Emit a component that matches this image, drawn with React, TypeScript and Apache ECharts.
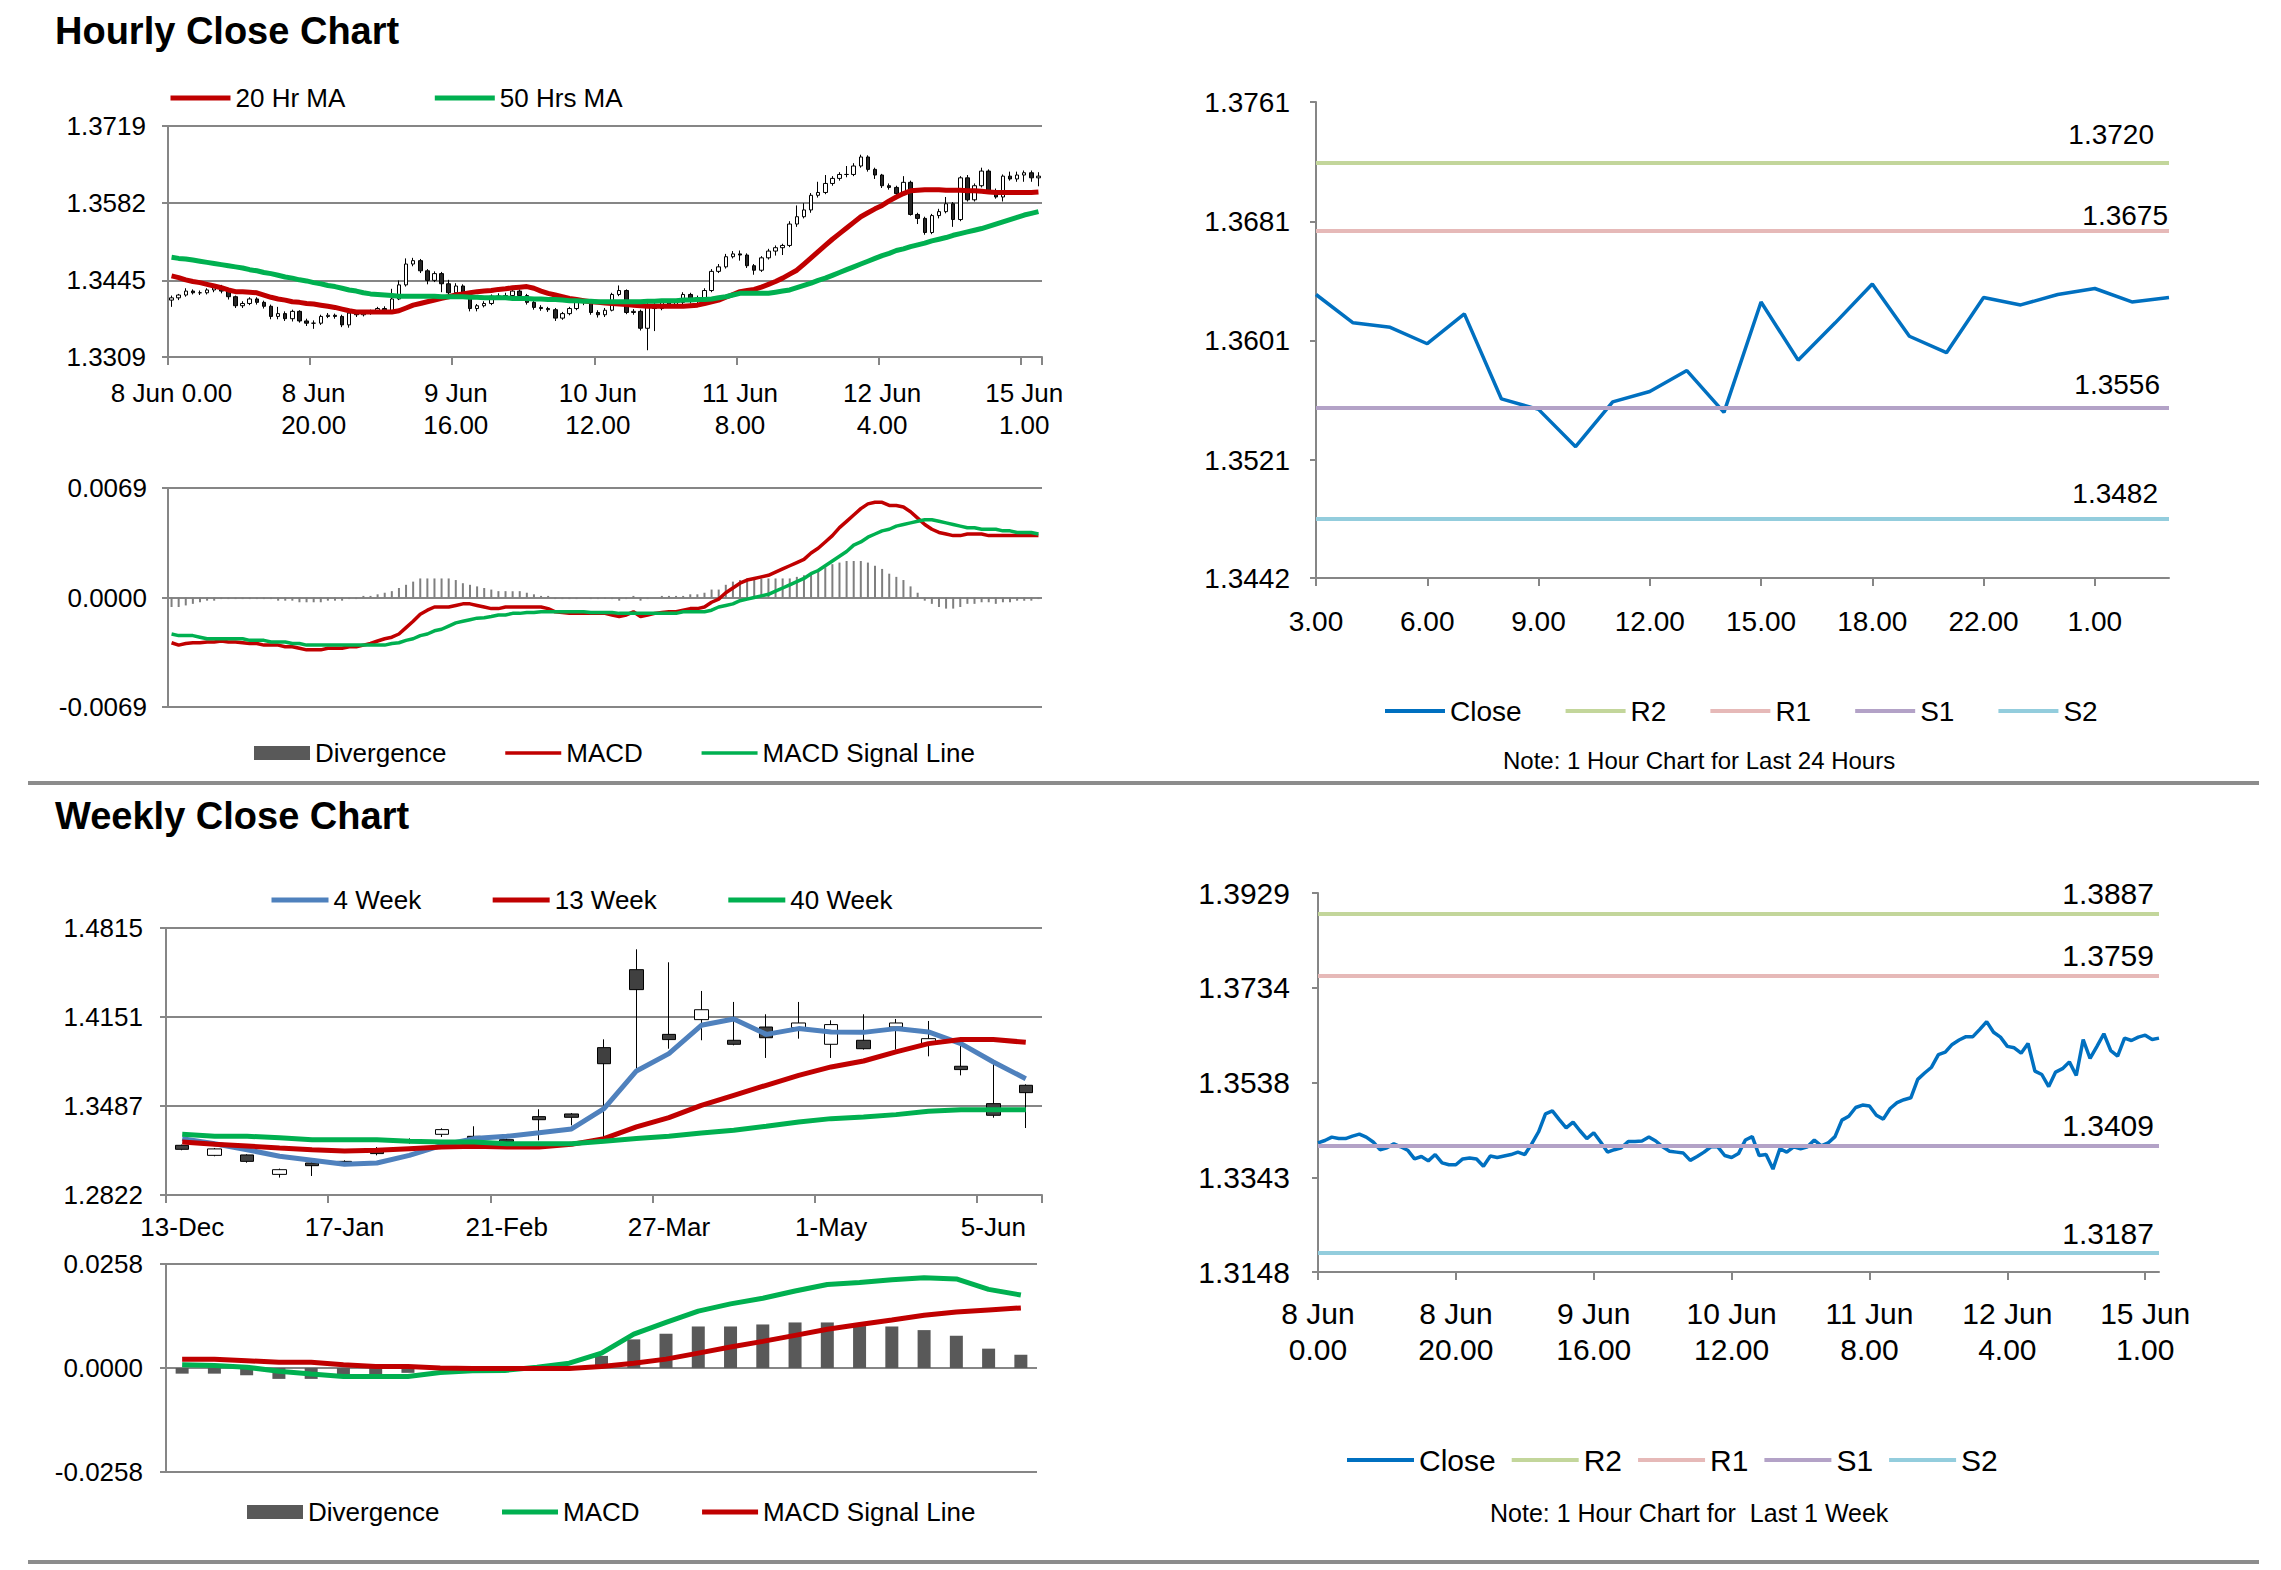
import React, { useEffect, useRef } from 'react';
import * as echarts from 'echarts';

const FONT = '"Liberation Sans", Arial, Helvetica, sans-serif';
const GRAY = '#868686';

// ---------- Hourly (last 1 week, 1-hour bars) ----------
const hourLabels = Array.from({ length: 123 }, (_, i) =>
  i < 120 ? `${8 + Math.floor(i / 24)} Jun ${i % 24}.00` : `15 Jun ${i - 119}.00`
);

const hourlyOpen = [
  1.3410, 1.3414, 1.3419, 1.3426, 1.3423, 1.3423, 1.3428, 1.3432, 1.3426, 1.3416,
  1.3400, 1.3404, 1.3412, 1.3406, 1.3399, 1.3381, 1.3386, 1.3377, 1.3390, 1.3373,
  1.3369, 1.3369, 1.3381, 1.3383, 1.3381, 1.3366, 1.3387, 1.3384, 1.3387, 1.3390,
  1.3395, 1.3390, 1.3412, 1.3437, 1.3474, 1.3480, 1.3462, 1.3445, 1.3457, 1.3439,
  1.3423, 1.3435, 1.3416, 1.3395, 1.3400, 1.3404, 1.3417, 1.3417, 1.3418, 1.3426,
  1.3418, 1.3406, 1.3397, 1.3395, 1.3393, 1.3378, 1.3386, 1.3395, 1.3406, 1.3406,
  1.3388, 1.3384, 1.3392, 1.3420, 1.3427, 1.3388, 1.3390, 1.3360, 1.3402, 1.3395,
  1.3406, 1.3402, 1.3406, 1.3420, 1.3408, 1.3414, 1.3427, 1.3461, 1.3469, 1.3487,
  1.3492, 1.3490, 1.3471, 1.3463, 1.3485, 1.3497, 1.3503, 1.3507, 1.3545, 1.3558,
  1.3570, 1.3596, 1.3601, 1.3617, 1.3626, 1.3633, 1.3633, 1.3648, 1.3664, 1.3642,
  1.3632, 1.3613, 1.3610, 1.3599, 1.3619, 1.3562, 1.3555, 1.3530, 1.3560, 1.3567,
  1.3581, 1.3553, 1.3627, 1.3588, 1.3613, 1.3639, 1.3604, 1.3593, 1.3630, 1.3625,
  1.3632, 1.3636, 1.3627,
];
const hourlyClose = [
  1.3414, 1.3419, 1.3426, 1.3423, 1.3423, 1.3428, 1.3432, 1.3426, 1.3416, 1.3400,
  1.3404, 1.3412, 1.3406, 1.3399, 1.3381, 1.3386, 1.3377, 1.3390, 1.3373, 1.3369,
  1.3369, 1.3381, 1.3383, 1.3381, 1.3366, 1.3387, 1.3384, 1.3387, 1.3390, 1.3395,
  1.3390, 1.3412, 1.3437, 1.3474, 1.3480, 1.3462, 1.3445, 1.3457, 1.3439, 1.3423,
  1.3435, 1.3416, 1.3395, 1.3400, 1.3404, 1.3417, 1.3417, 1.3418, 1.3426, 1.3418,
  1.3406, 1.3397, 1.3395, 1.3393, 1.3378, 1.3386, 1.3395, 1.3406, 1.3406, 1.3388,
  1.3384, 1.3392, 1.3420, 1.3427, 1.3388, 1.3390, 1.3360, 1.3402, 1.3395, 1.3406,
  1.3402, 1.3406, 1.3420, 1.3408, 1.3414, 1.3427, 1.3461, 1.3469, 1.3487, 1.3492,
  1.3490, 1.3471, 1.3463, 1.3485, 1.3497, 1.3503, 1.3507, 1.3545, 1.3558, 1.3570,
  1.3596, 1.3601, 1.3617, 1.3626, 1.3633, 1.3633, 1.3648, 1.3664, 1.3642, 1.3632,
  1.3613, 1.3610, 1.3599, 1.3619, 1.3562, 1.3555, 1.3530, 1.3560, 1.3567, 1.3581,
  1.3553, 1.3627, 1.3588, 1.3613, 1.3639, 1.3604, 1.3593, 1.3630, 1.3625, 1.3632,
  1.3636, 1.3627, 1.3630,
];
const hourlyHigh = [
  1.3418, 1.3421, 1.3431, 1.3429, 1.3427, 1.3431, 1.3435, 1.3437, 1.3429, 1.3418,
  1.3408, 1.3415, 1.3415, 1.3409, 1.3402, 1.3398, 1.3390, 1.3393, 1.3392, 1.3377,
  1.3374, 1.3384, 1.3387, 1.3386, 1.3384, 1.3389, 1.3390, 1.3391, 1.3393, 1.3398,
  1.3399, 1.3430, 1.3445, 1.3484, 1.3485, 1.3483, 1.3465, 1.3461, 1.3460, 1.3446,
  1.3440, 1.3438, 1.3420, 1.3403, 1.3408, 1.3420, 1.3422, 1.3423, 1.3430, 1.3429,
  1.3421, 1.3409, 1.3401, 1.3398, 1.3396, 1.3389, 1.3398, 1.3409, 1.3410, 1.3408,
  1.3392, 1.3396, 1.3423, 1.3436, 1.3429, 1.3394, 1.3393, 1.3405, 1.3406, 1.3409,
  1.3410, 1.3411, 1.3424, 1.3423, 1.3418, 1.3431, 1.3465, 1.3474, 1.3492, 1.3497,
  1.3498, 1.3493, 1.3474, 1.3488, 1.3501, 1.3507, 1.3510, 1.3550, 1.3578, 1.3582,
  1.3600, 1.3620, 1.3632, 1.3630, 1.3637, 1.3648, 1.3653, 1.3668, 1.3667, 1.3645,
  1.3634, 1.3617, 1.3613, 1.3630, 1.3622, 1.3565, 1.3558, 1.3563, 1.3572, 1.3593,
  1.3584, 1.3630, 1.3632, 1.3617, 1.3645, 1.3642, 1.3608, 1.3633, 1.3638, 1.3638,
  1.3640, 1.3640, 1.3637,
];
const hourlyLow = [
  1.3398, 1.3410, 1.3416, 1.3420, 1.3419, 1.3420, 1.3424, 1.3422, 1.3411, 1.3396,
  1.3396, 1.3401, 1.3402, 1.3395, 1.3376, 1.3376, 1.3373, 1.3372, 1.3370, 1.3364,
  1.3359, 1.3366, 1.3378, 1.3377, 1.3362, 1.3361, 1.3380, 1.3381, 1.3384, 1.3386,
  1.3386, 1.3387, 1.3410, 1.3434, 1.3470, 1.3458, 1.3438, 1.3442, 1.3424, 1.3420,
  1.3420, 1.3412, 1.3390, 1.3390, 1.3397, 1.3401, 1.3413, 1.3413, 1.3415, 1.3414,
  1.3402, 1.3393, 1.3391, 1.3389, 1.3373, 1.3375, 1.3383, 1.3392, 1.3401, 1.3384,
  1.3379, 1.3380, 1.3390, 1.3417, 1.3385, 1.3384, 1.3356, 1.3321, 1.3355, 1.3392,
  1.3398, 1.3399, 1.3403, 1.3404, 1.3405, 1.3411, 1.3424, 1.3458, 1.3466, 1.3484,
  1.3480, 1.3467, 1.3455, 1.3460, 1.3482, 1.3489, 1.3490, 1.3504, 1.3540, 1.3555,
  1.3565, 1.3592, 1.3598, 1.3613, 1.3622, 1.3628, 1.3630, 1.3645, 1.3638, 1.3625,
  1.3609, 1.3606, 1.3595, 1.3596, 1.3560, 1.3545, 1.3526, 1.3527, 1.3555, 1.3564,
  1.3540, 1.3550, 1.3585, 1.3585, 1.3610, 1.3602, 1.3590, 1.3585, 1.3622, 1.3620,
  1.3620, 1.3620, 1.3612,
];
const ma20 = [
  1.3453, 1.3450, 1.3446, 1.3443, 1.3441, 1.3438, 1.3435, 1.3432, 1.3428, 1.3425,
  1.3425, 1.3424, 1.3423, 1.3419, 1.3415, 1.3412, 1.3410, 1.3407, 1.3406, 1.3404,
  1.3403, 1.3401, 1.3399, 1.3397, 1.3394, 1.3391, 1.3389, 1.3389, 1.3389, 1.3389,
  1.3389, 1.3389, 1.3391, 1.3396, 1.3401, 1.3404, 1.3407, 1.3410, 1.3413, 1.3416,
  1.3419, 1.3421, 1.3423, 1.3425, 1.3426, 1.3427, 1.3429, 1.3430, 1.3432, 1.3433,
  1.3434, 1.3431, 1.3426, 1.3422, 1.3419, 1.3416, 1.3413, 1.3411, 1.3409, 1.3407,
  1.3406, 1.3405, 1.3404, 1.3403, 1.3402, 1.3401, 1.3400, 1.3399, 1.3399, 1.3399,
  1.3399, 1.3399, 1.3399, 1.3400, 1.3401, 1.3404, 1.3407, 1.3410, 1.3415, 1.3420,
  1.3425, 1.3427, 1.3429, 1.3433, 1.3438, 1.3443, 1.3449, 1.3456, 1.3463, 1.3474,
  1.3485, 1.3496, 1.3507, 1.3518, 1.3528, 1.3538, 1.3548, 1.3558, 1.3565, 1.3572,
  1.3578, 1.3586, 1.3593, 1.3599, 1.3604, 1.3605, 1.3606, 1.3606, 1.3606, 1.3605,
  1.3605, 1.3605, 1.3604, 1.3604, 1.3603, 1.3602, 1.3601, 1.3601, 1.3601, 1.3601,
  1.3601, 1.3601, 1.3602,
];
const ma50 = [
  1.3486, 1.3484, 1.3483, 1.3481, 1.3479, 1.3477, 1.3475, 1.3473, 1.3471, 1.3469,
  1.3467, 1.3464, 1.3462, 1.3459, 1.3457, 1.3454, 1.3451, 1.3449, 1.3446, 1.3444,
  1.3441, 1.3439, 1.3436, 1.3434, 1.3431, 1.3428, 1.3426, 1.3423, 1.3421, 1.3420,
  1.3419, 1.3418, 1.3417, 1.3417, 1.3417, 1.3417, 1.3417, 1.3417, 1.3416, 1.3416,
  1.3416, 1.3416, 1.3415, 1.3415, 1.3414, 1.3414, 1.3414, 1.3414, 1.3413, 1.3413,
  1.3413, 1.3412, 1.3412, 1.3411, 1.3411, 1.3410, 1.3409, 1.3409, 1.3408, 1.3408,
  1.3407, 1.3407, 1.3407, 1.3407, 1.3407, 1.3407, 1.3407, 1.3408, 1.3408, 1.3409,
  1.3409, 1.3409, 1.3410, 1.3410, 1.3411, 1.3411, 1.3412, 1.3414, 1.3416, 1.3419,
  1.3422, 1.3422, 1.3422, 1.3422, 1.3422, 1.3424, 1.3426, 1.3428, 1.3432, 1.3436,
  1.3440, 1.3445, 1.3449, 1.3454, 1.3459, 1.3464, 1.3469, 1.3474, 1.3479, 1.3484,
  1.3489, 1.3493, 1.3498, 1.3501, 1.3505, 1.3508, 1.3511, 1.3515, 1.3518, 1.3521,
  1.3525, 1.3528, 1.3531, 1.3534, 1.3537, 1.3541, 1.3545, 1.3549, 1.3553, 1.3557,
  1.3561, 1.3564, 1.3567,
];
const hMacd = [
  -0.00285, -0.0030, -0.0029, -0.00285, -0.00285, -0.0028, -0.0028, -0.00274, -0.0028, -0.0028,
  -0.00285, -0.0029, -0.0029, -0.0030, -0.0030, -0.0030, -0.0031, -0.0031, -0.0032, -0.0033,
  -0.0033, -0.0033, -0.0032, -0.0032, -0.0032, -0.0031, -0.0031, -0.0030, -0.0029, -0.00274,
  -0.0026, -0.0025, -0.0023, -0.0019, -0.0015, -0.00105, -0.0008, -0.0006, -0.0006, -0.0006,
  -0.0005, -0.0004, -0.0004, -0.0005, -0.0006, -0.0007, -0.0007, -0.0006, -0.0006, -0.0006,
  -0.0006, -0.0006, -0.0006, -0.0007, -0.0009, -0.00095, -0.0010, -0.0010, -0.0010, -0.0010,
  -0.0010, -0.0010, -0.0011, -0.0012, -0.0011, -0.0009, -0.0012, -0.0011, -0.0010, -0.00095,
  -0.0009, -0.0009, -0.0008, -0.0007, -0.0007, -0.0006, -0.0003, -0.0001, 0.0003, 0.0006,
  0.0009, 0.0011, 0.0012, 0.0013, 0.0014, 0.0016, 0.0018, 0.0020, 0.0022, 0.0024,
  0.0028, 0.0031, 0.0035, 0.0039, 0.0044, 0.0048, 0.0052, 0.0056, 0.0059, 0.0060,
  0.0060, 0.0058, 0.0058, 0.0057, 0.0054, 0.0050, 0.0046, 0.0043, 0.0041, 0.0040,
  0.0039, 0.0039, 0.0040, 0.0040, 0.0040, 0.0039, 0.0039, 0.0039, 0.0039, 0.0039,
  0.0039, 0.0039, 0.0039,
];
const hSignal = [
  -0.0023, -0.0024, -0.0024, -0.0024, -0.0025, -0.0026, -0.0026, -0.0026, -0.0026, -0.0026,
  -0.0026, -0.0027, -0.0027, -0.0027, -0.0028, -0.0028, -0.0028, -0.0029, -0.0029, -0.0030,
  -0.0030, -0.0030, -0.0030, -0.0030, -0.0030, -0.0030, -0.0030, -0.0030, -0.0030, -0.0030,
  -0.0030, -0.0029, -0.00285, -0.0027, -0.0026, -0.0024, -0.0023, -0.0021, -0.0020, -0.0018,
  -0.0016, -0.0015, -0.0014, -0.0013, -0.00127, -0.0012, -0.0011, -0.0011, -0.0010, -0.0010,
  -0.00095, -0.00095, -0.0009, -0.0009, -0.0009, -0.0009, -0.0009, -0.0009, -0.0009, -0.00095,
  -0.00095, -0.00095, -0.00095, -0.0010, -0.0010, -0.0010, -0.0010, -0.0010, -0.0010, -0.0010,
  -0.0010, -0.0010, -0.0009, -0.0009, -0.0009, -0.0009, -0.0008, -0.0006, -0.0005, -0.0004,
  -0.0002, -0.0001, 0.0000, 0.0001, 0.0002, 0.0004, 0.0006, 0.0008, 0.0010, 0.0012,
  0.0015, 0.0017, 0.0020, 0.0023, 0.0026, 0.0029, 0.0033, 0.0035, 0.0038, 0.0040,
  0.0042, 0.0043, 0.0045, 0.0046, 0.0047, 0.0048, 0.0049, 0.0049, 0.0048, 0.0047,
  0.0046, 0.0045, 0.0044, 0.0044, 0.0043, 0.0043, 0.0043, 0.0042, 0.0042, 0.0041,
  0.0041, 0.0041, 0.0040,
];
const hDiv = [
  -0.0006, -0.0006, -0.0005, -0.0004, -0.0003, -0.0002, -0.0002, -0.0001, -0.0001, -0.0001,
  -0.0001, -0.0001, -0.0001, -0.0001, -0.0001, -0.0002, -0.0002, -0.0002, -0.0003, -0.0003,
  -0.0003, -0.0003, -0.0002, -0.0002, -0.0002, -0.0001, -0.0001, 0.0001, 0.0001, 0.0002,
  0.0003, 0.0004, 0.0006, 0.0008, 0.0010, 0.0012, 0.0012, 0.0012, 0.0012, 0.0012,
  0.0011, 0.0009, 0.0008, 0.0007, 0.0006, 0.0005, 0.0004, 0.0004, 0.0004, 0.0004,
  0.0003, 0.0002, 0.0001, 0.0001, -0.0001, -0.0001, -0.0001, -0.0001, 0.0000, -0.0001,
  -0.0001, -0.0001, -0.0001, -0.0002, -0.0001, 0.0001, -0.0002, -0.0001, 0.0000, 0.0001,
  0.0001, 0.0001, 0.0001, 0.0002, 0.0002, 0.0003, 0.0005, 0.0005, 0.0008, 0.0010,
  0.0011, 0.0012, 0.0012, 0.0012, 0.0012, 0.0012, 0.0012, 0.0012, 0.0013, 0.0014,
  0.0015, 0.0017, 0.0019, 0.0021, 0.0022, 0.0023, 0.0023, 0.0023, 0.0022, 0.0020,
  0.0018, 0.0015, 0.0013, 0.0011, 0.0007, 0.0003, -0.0002, -0.0004, -0.0006, -0.0007,
  -0.0007, -0.0006, -0.0004, -0.0004, -0.0003, -0.0003, -0.0004, -0.0003, -0.0003, -0.0002,
  -0.0002, -0.0002, -0.0001,
];
const hourlyPriceTicks = [1.3309, 1.3445, 1.3582, 1.3719];
const hourlyMacdTicks = [-0.0069, 0, 0.0069];

// ---------- Last 24 hours ----------
const last24Labels = [
  '3.00', '4.00', '5.00', '6.00', '7.00', '8.00', '9.00', '10.00', '11.00', '12.00', '13.00', '14.00',
  '15.00', '16.00', '17.00', '18.00', '20.00', '21.00', '22.00', '23.00', '0.00', '1.00', '2.00', '3.00',
];
const last24Close = [
  1.3632, 1.3613, 1.3610, 1.3599, 1.3619, 1.3562, 1.3555, 1.3530, 1.3560, 1.3567, 1.3581, 1.3553,
  1.3627, 1.3588, 1.3613, 1.3639, 1.3604, 1.3593, 1.3630, 1.3625, 1.3632, 1.3636, 1.3627, 1.3630,
];
const last24Ticks = [1.3442, 1.3521, 1.3601, 1.3681, 1.3761];
const levelNames = ['R2', 'R1', 'S1', 'S2'];
const levelColors = ['#c3d69b', '#e6b9b8', '#b3a2c7', '#93cddd'];
const dayLevels = [1.3720, 1.3675, 1.3556, 1.3482];
const weekLevels = [1.3887, 1.3759, 1.3409, 1.3187];
const weekCloseTicks = [1.3148, 1.3343, 1.3538, 1.3734, 1.3929];

// ---------- Weekly ----------
const weekLabels = [
  '13-Dec', '20-Dec', '27-Dec', '3-Jan', '10-Jan', '17-Jan', '24-Jan', '31-Jan', '7-Feb', '14-Feb',
  '21-Feb', '28-Feb', '7-Mar', '14-Mar', '20-Mar', '27-Mar', '3-Apr', '10-Apr', '17-Apr', '24-Apr',
  '1-May', '8-May', '15-May', '22-May', '29-May', '5-Jun', '12-Jun',
];
const wOpen = [1.3193, 1.3118, 1.3121, 1.2976, 1.3061, 1.3073, 1.3148, 1.3235, 1.3275, 1.3260, 1.3235, 1.3407, 1.3427, 1.3922, 1.4504, 1.4021, 1.4131, 1.3977, 1.4076, 1.4071, 1.3947, 1.3977, 1.4076, 1.3952, 1.3783, 1.3504, 1.3641];
const wClose = [1.3163, 1.3166, 1.3073, 1.3011, 1.3041, 1.3061, 1.3131, 1.3218, 1.3310, 1.3240, 1.3220, 1.3384, 1.3402, 1.3802, 1.4355, 1.3982, 1.4205, 1.3947, 1.3996, 1.4106, 1.4094, 1.3914, 1.4106, 1.3989, 1.3758, 1.3417, 1.3586];
const wHigh = [1.3198, 1.3173, 1.3126, 1.3019, 1.3093, 1.3081, 1.3180, 1.3245, 1.3320, 1.3335, 1.3243, 1.3462, 1.3434, 1.3984, 1.4656, 1.4559, 1.4345, 1.4263, 1.4171, 1.4263, 1.4126, 1.4171, 1.4136, 1.4121, 1.4001, 1.3815, 1.3648];
const wLow = [1.3156, 1.3111, 1.3063, 1.2952, 1.2964, 1.3051, 1.3118, 1.3205, 1.3255, 1.3230, 1.3215, 1.3230, 1.3342, 1.3218, 1.3765, 1.3914, 1.3977, 1.3939, 1.3845, 1.3989, 1.3845, 1.3907, 1.3907, 1.3857, 1.3715, 1.3399, 1.3322];
const w4 = [1.3243, 1.3205, 1.3160, 1.3111, 1.3081, 1.3051, 1.3061, 1.3118, 1.3193, 1.3243, 1.3260, 1.3287, 1.3315, 1.3467, 1.3748, 1.3877, 1.4089, 1.4136, 1.4021, 1.4064, 1.4039, 1.4036, 1.4064, 1.4039, 1.3952, 1.3815, 1.3690];
const w13 = [1.3218, 1.3200, 1.3188, 1.3173, 1.3160, 1.3150, 1.3156, 1.3168, 1.3180, 1.3185, 1.3180, 1.3180, 1.3200, 1.3243, 1.3330, 1.3399, 1.3491, 1.3566, 1.3641, 1.3715, 1.3778, 1.3822, 1.3890, 1.3952, 1.3982, 1.3982, 1.3962];
const w40 = [1.3275, 1.3260, 1.3260, 1.3250, 1.3235, 1.3235, 1.3235, 1.3223, 1.3218, 1.3218, 1.3205, 1.3205, 1.3205, 1.3223, 1.3243, 1.3260, 1.3285, 1.3305, 1.3335, 1.3367, 1.3392, 1.3404, 1.3422, 1.3447, 1.3459, 1.3459, 1.3459];
const wMacd = [0.0008, 0.0006, 0.0002, -0.0008, -0.0015, -0.0021, -0.0021, -0.0021, -0.0011, -0.0007, -0.0006, 0.0002, 0.0012, 0.0037, 0.0084, 0.0113, 0.0141, 0.0159, 0.0173, 0.0191, 0.0207, 0.0212, 0.0219, 0.0224, 0.0221, 0.0195, 0.0181];
const wSignal = [0.0022, 0.0022, 0.0018, 0.0014, 0.0014, 0.0008, 0.0004, 0.0004, 0.0000, -0.0001, -0.0001, -0.0001, -0.0001, 0.0004, 0.0012, 0.0022, 0.0037, 0.0052, 0.0066, 0.0081, 0.0096, 0.0108, 0.0119, 0.0131, 0.0139, 0.0144, 0.0149];
const wDiv = [-0.0014, -0.0014, -0.0018, -0.0027, -0.0027, -0.0015, -0.0015, -0.0012, -0.0005, -0.0003, -0.0002, 0.0002, 0.0005, 0.0030, 0.0071, 0.0085, 0.0103, 0.0103, 0.0108, 0.0113, 0.0113, 0.0104, 0.0103, 0.0094, 0.0080, 0.0048, 0.0033];
const weeklyPriceTicks = [1.2822, 1.3487, 1.4151, 1.4815];
const weeklyMacdTicks = [-0.0258, 0, 0.0258];

// ---------- helpers ----------
const fmt4 = (v: number) => v.toFixed(4);

function valueAxis(gridIndex: number, ticks: number[], fontSize: number, margin: number, split: boolean) {
  return {
    type: 'value',
    gridIndex,
    min: ticks[0],
    max: ticks[ticks.length - 1],
    axisLine: { show: true, lineStyle: { color: GRAY, width: 2 } },
    axisTick: { show: true, length: 6, customValues: ticks, lineStyle: { color: GRAY, width: 2 } },
    axisLabel: { customValues: ticks, formatter: fmt4, color: '#000', fontFamily: FONT, fontSize, margin },
    splitLine: { show: split, lineStyle: { color: GRAY, width: 2 } },
  };
}

function catAxis(gridIndex: number, data: string[], boundaryGap: boolean, interval: number, label: any, show = true) {
  return {
    type: 'category',
    gridIndex,
    data,
    show,
    boundaryGap,
    axisLine: { show: true, onZero: false, lineStyle: { color: GRAY, width: 2 } },
    axisTick: { show: true, interval, length: 8, lineStyle: { color: GRAY, width: 2 } },
    axisLabel: { interval, color: '#000', fontFamily: FONT, ...label },
    splitLine: { show: false },
  };
}

function lineSeries(name: string, x: number, data: number[], color: string, width: number) {
  return {
    type: 'line', name, xAxisIndex: x, yAxisIndex: x, data, color,
    symbol: 'none', showSymbol: false, z: 3,
    lineStyle: { color, width },
  };
}

function levelSeries(suffix: string, x: number, levels: number[], fontSize: number, distances: number[]) {
  return levelNames.map((n, k) => ({
    type: 'line', name: n + suffix, xAxisIndex: x, yAxisIndex: x, data: [],
    color: levelColors[k], symbol: 'none', lineStyle: { color: levelColors[k], width: 4 },
    markLine: {
      silent: true, symbol: ['none', 'none'], animation: false, precision: 4,
      lineStyle: { color: levelColors[k], width: 4, type: 'solid' },
      label: {
        show: true, position: 'insideEndTop', distance: distances[k],
        formatter: () => fmt4(levels[k]), color: '#000', fontFamily: FONT, fontSize,
      },
      data: [{ yAxis: levels[k] }],
    },
  }));
}

const legendFmt = (name: string) => name.split('#')[0];

function legend(data: any[], left: number, top: number, itemWidth: number, itemGap: number, fontSize: number, lineWidth: number) {
  return {
    data, left, top, itemWidth, itemHeight: 14, itemGap, selectedMode: false,
    formatter: legendFmt, padding: 0,
    itemStyle: { opacity: 0 },
    lineStyle: { width: lineWidth },
    textStyle: { color: '#000', fontFamily: FONT, fontSize, padding: [0, 0, 0, 0] },
  };
}

export default function App() {
  const ref = useRef<HTMLDivElement>(null);
  useEffect(() => {
    if (!ref.current) return;
    const chart = echarts.init(ref.current, undefined, { renderer: 'svg' });
    const candleStyle = { color: '#ffffff', color0: '#262626', borderColor: '#000', borderColor0: '#000', borderWidth: 1 };
    const option: any = {
      animation: false,
      backgroundColor: '#ffffff',
      textStyle: { fontFamily: FONT },
      grid: [
        { left: 168, top: 126, width: 874, height: 231 },
        { left: 168, top: 488, width: 874, height: 219 },
        { left: 1316, top: 102, width: 853, height: 476 },
        { left: 166, top: 928, width: 876, height: 267 },
        { left: 166, top: 1264, width: 871, height: 208 },
        { left: 1318, top: 893, width: 841, height: 379 },
      ],
      xAxis: [
        catAxis(0, hourLabels, true, 19, {
          fontSize: 26, lineHeight: 32, margin: 20,
          formatter: (v: string, i: number) => (i === 0 ? v : v.replace(' Jun ', ' Jun\n')),
        }),
        catAxis(1, hourLabels, true, 19, {}, false),
        catAxis(2, last24Labels, false, 2, { fontSize: 28, lineHeight: 32, margin: 27 }),
        catAxis(3, weekLabels, true, 4, { fontSize: 26, lineHeight: 32, margin: 16 }),
        catAxis(4, weekLabels, true, 4, {}, false),
        catAxis(5, hourLabels, false, 19, {
          fontSize: 30, lineHeight: 36, margin: 23,
          formatter: (v: string) => v.replace(' Jun ', ' Jun\n'),
        }),
      ],
      yAxis: [
        valueAxis(0, hourlyPriceTicks, 26, 22, true),
        valueAxis(1, hourlyMacdTicks, 26, 21, true),
        valueAxis(2, last24Ticks, 28, 26, false),
        valueAxis(3, weeklyPriceTicks, 26, 23, true),
        valueAxis(4, weeklyMacdTicks, 26, 23, true),
        valueAxis(5, weekCloseTicks, 30, 28, false),
      ],
      legend: [
        legend(['20 Hr MA', '50 Hrs MA'], 168, 85, 60, 87, 26, 5),
        legend([{ name: 'Divergence#h', icon: 'rect', itemStyle: { opacity: 1, color: '#595959' } }, 'MACD#h', 'MACD Signal Line#h'], 254, 740, 56, 57, 26, 3.5),
        legend(['Close#d', 'R2#d', 'R1#d', 'S1#d', 'S2#d'], 1383, 697, 60, 42, 28, 4),
        legend(['4 Week', '13 Week', '40 Week'], 269, 887, 57, 69, 26, 5),
        legend([{ name: 'Divergence#w', icon: 'rect', itemStyle: { opacity: 1, color: '#595959' } }, 'MACD#w', 'MACD Signal Line#w'], 247, 1499, 56, 60, 26, 5),
        legend(['Close#w', 'R2#w', 'R1#w', 'S1#w', 'S2#w'], 1345, 1445, 67, 14, 30, 4),
      ],
      series: [
        {
          type: 'candlestick', name: 'Hourly', xAxisIndex: 0, yAxisIndex: 0, barWidth: 4, z: 2,
          data: hourlyOpen.map((o, i) => [o, hourlyClose[i], hourlyLow[i], hourlyHigh[i]]),
          itemStyle: candleStyle,
        },
        lineSeries('20 Hr MA', 0, ma20, '#c00000', 5),
        lineSeries('50 Hrs MA', 0, ma50, '#00b050', 5),
        { type: 'bar', name: 'Divergence#h', xAxisIndex: 1, yAxisIndex: 1, data: hDiv, barWidth: 2, color: '#7f7f7f', itemStyle: { color: '#7f7f7f' }, z: 1 },
        lineSeries('MACD#h', 1, hMacd, '#c00000', 3.5),
        lineSeries('MACD Signal Line#h', 1, hSignal, '#00b050', 3.5),
        lineSeries('Close#d', 2, last24Close, '#0070c0', 3.5),
        ...levelSeries('#d', 2, dayLevels, 28, [15, 1, 9, 11]),
        {
          type: 'candlestick', name: 'Weekly', xAxisIndex: 3, yAxisIndex: 3, barWidth: 14, z: 2,
          data: wOpen.map((o, i) => [o, wClose[i], wLow[i], wHigh[i]]),
          itemStyle: { ...candleStyle, color0: '#404040' },
        },
        lineSeries('4 Week', 3, w4, '#4f81bd', 5),
        lineSeries('13 Week', 3, w13, '#c00000', 5),
        lineSeries('40 Week', 3, w40, '#00b050', 5),
        { type: 'bar', name: 'Divergence#w', xAxisIndex: 4, yAxisIndex: 4, data: wDiv, barWidth: 13, color: '#595959', itemStyle: { color: '#595959' }, z: 1 },
        lineSeries('MACD#w', 4, wMacd, '#00b050', 5),
        lineSeries('MACD Signal Line#w', 4, wSignal, '#c00000', 5),
        lineSeries('Close#w', 5, hourlyClose, '#0070c0', 3.5),
        ...levelSeries('#w', 5, weekLevels, 30, [5, 5, 5, 5]),
      ],
      graphic: [
        { type: 'text', left: 55, top: 12, style: { text: 'Hourly Close Chart', font: `bold 38px ${FONT}`, fill: '#000' } },
        { type: 'text', left: 55, top: 797, style: { text: 'Weekly Close Chart', font: `bold 38px ${FONT}`, fill: '#000' } },
        { type: 'text', left: 1693 - 190, top: 748, style: { text: 'Note: 1 Hour Chart for Last 24 Hours', font: `24px ${FONT}`, fill: '#000' } },
        { type: 'text', left: 1690 - 200, top: 1500, style: { text: 'Note: 1 Hour Chart for  Last 1 Week', font: `25px ${FONT}`, fill: '#000' } },
        { type: 'line', shape: { x1: 28, y1: 783, x2: 2259, y2: 783 }, style: { stroke: '#8c8c8c', lineWidth: 4 } },
        { type: 'line', shape: { x1: 28, y1: 1562, x2: 2259, y2: 1562 }, style: { stroke: '#8c8c8c', lineWidth: 4 } },
      ],
    };
    chart.setOption(option);
    return () => chart.dispose();
  }, []);
  return (
    <div
      ref={ref}
      style={{ position: 'absolute', left: 0, top: 0, width: 2281, height: 1570, background: '#fff' }}
    />
  );
}
